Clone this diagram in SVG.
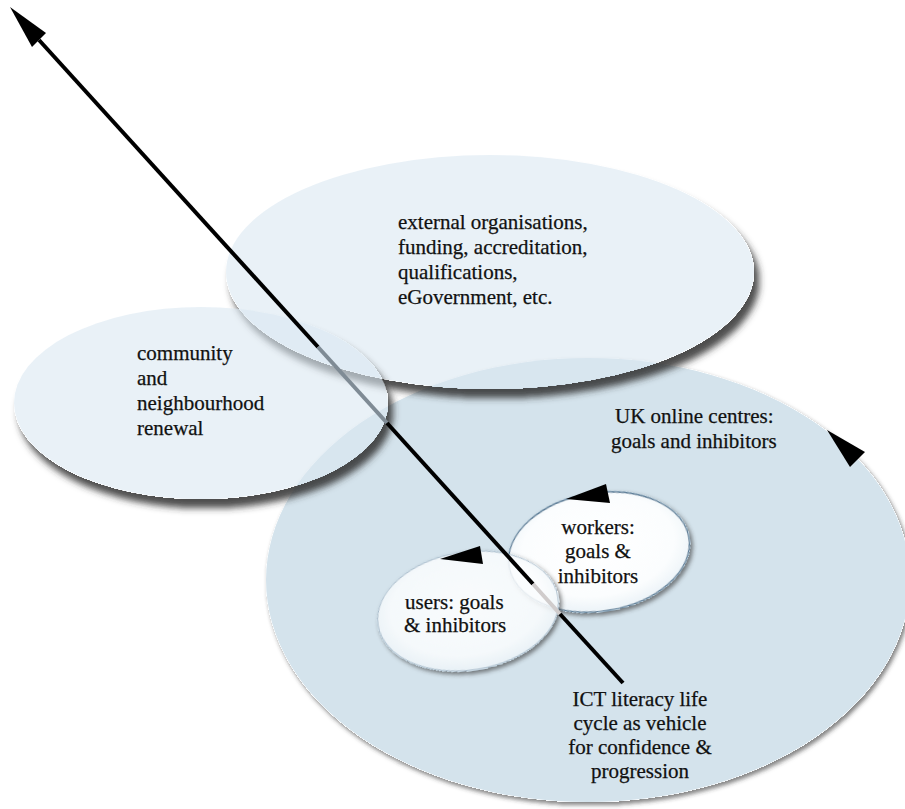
<svg xmlns="http://www.w3.org/2000/svg" width="905" height="809" viewBox="0 0 905 809">
<style>
.t{font-family:"Liberation Serif","Times New Roman",serif;font-size:21px;fill:#111;stroke:#111;stroke-width:0.25}
.m{text-anchor:middle}
.big{fill:#d4e3ec}
.soft{fill:#dae8f2;fill-opacity:0.6}
.small{fill:url(#wg)}
.head{fill:#000}
</style>
<defs>
<radialGradient id="wg" cx="0.5" cy="0.45" r="0.6">
<stop offset="0" stop-color="#ffffff"/>
<stop offset="0.7" stop-color="#fbfdfe"/>
<stop offset="1" stop-color="#e6eff5"/>
</radialGradient>
<filter id="shL" x="-10%" y="-10%" width="125%" height="135%">
<feComponentTransfer in="SourceAlpha" result="a"><feFuncA type="linear" slope="20"/></feComponentTransfer>
<feGaussianBlur in="a" stdDeviation="3.5"/>
<feOffset dx="5" dy="9" result="o"/>
<feComposite in="o" in2="a" operator="out" result="s"/>
<feFlood flood-color="#2e2e2e" flood-opacity="0.85"/>
<feComposite in2="s" operator="in" result="sh"/>
<feMerge><feMergeNode in="sh"/><feMergeNode in="SourceGraphic"/></feMerge>
</filter>
<filter id="shS" x="-10%" y="-10%" width="125%" height="130%">
<feComponentTransfer in="SourceAlpha" result="a"><feFuncA type="linear" slope="20"/></feComponentTransfer>
<feGaussianBlur in="a" stdDeviation="2"/>
<feOffset dx="2" dy="3" result="o"/>
<feComposite in="o" in2="a" operator="out" result="s"/>
<feFlood flood-color="#333" flood-opacity="0.6"/>
<feComposite in2="s" operator="in" result="sh"/>
<feMerge><feMergeNode in="sh"/><feMergeNode in="SourceGraphic"/></feMerge>
</filter>
</defs>
<rect width="905" height="809" fill="#ffffff"/>

<g id="uk-online-centres">
<ellipse class="big" cx="588" cy="580" rx="322" ry="222" filter="url(#shS)"/>
<text class="t" x="615" y="423">UK online centres:</text>
<text class="t" x="611" y="448">goals and inhibitors</text>
</g>

<g id="external-organisations">
<ellipse class="soft" cx="490" cy="272" rx="264" ry="117" filter="url(#shL)"/>
<text class="t" x="398" y="229">external organisations,</text>
<text class="t" x="398" y="254">funding, accreditation,</text>
<text class="t" x="398" y="279">qualifications,</text>
<text class="t" x="398" y="304">eGovernment, etc.</text>
</g>

<g id="community">
<ellipse class="soft" cx="201" cy="403" rx="187" ry="96" filter="url(#shL)"/>
<text class="t" x="137" y="360">community</text>
<text class="t" x="137" y="385">and</text>
<text class="t" x="137" y="410">neighbourhood</text>
<text class="t" x="137" y="435">renewal</text>
</g>

<g id="workers">
<ellipse class="small" cx="599" cy="552" rx="91" ry="59" transform="rotate(-9 599 552)" stroke="#5b7c96" stroke-width="1.3" filter="url(#shS)"/>
<text class="t m" x="598" y="534">workers:</text>
<text class="t m" x="598" y="558">goals &amp;</text>
<text class="t m" x="598" y="583">inhibitors</text>
</g>

<g id="users">
<ellipse class="small" cx="468" cy="611" rx="91" ry="59" transform="rotate(-9 468 611)" stroke="#a9bccb" stroke-width="1" fill-opacity="0.85" filter="url(#shS)"/>
<text class="t" x="405" y="609">users: goals</text>
<text class="t" x="404" y="632">&amp; inhibitors</text>
</g>

<g id="ict-label">
<text class="t m" x="640" y="706">ICT literacy life</text>
<text class="t m" x="640" y="730">cycle as vehicle</text>
<text class="t m" x="640" y="754">for confidence &amp;</text>
<text class="t m" x="640" y="778">progression</text>
</g>

<g id="connectors" stroke-width="4" fill="none">
<path d="M39 40 L318 347" stroke="#000"/>
<path d="M318 347 L387 423" stroke="#7f8b95"/>
<path d="M387 423 L533 584" stroke="#000"/>
<path d="M533 584 L560 614" stroke="#d0cccc"/>
<path d="M560 614 L623 683" stroke="#000"/>
<polygon class="head" stroke="none" points="10,7 32,47 46,33"/>
<polygon class="head" stroke="none" points="566,499 606,484 610,503"/>
<polygon class="head" stroke="none" points="440,559 480,546 483,564"/>
<polygon class="head" stroke="none" points="827,430 865,452 850,467"/>
</g>
</svg>
